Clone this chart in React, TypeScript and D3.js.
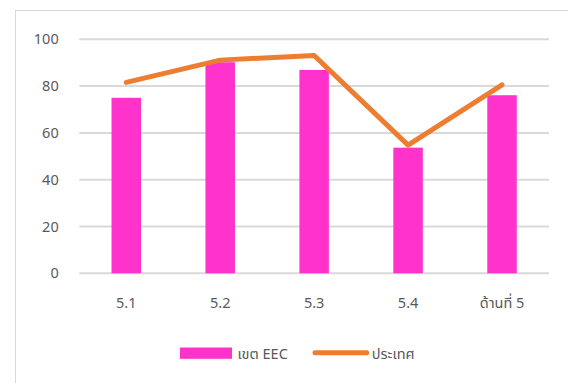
import React from "react";
import * as d3 from "d3";

const categories = ["5.1", "5.2", "5.3", "5.4", "ด้านที่ 5"];
const eecValues = [75.0, 90.2, 86.9, 53.7, 76.1];
const countryValues = [81.6, 91.1, 93.1, 54.8, 80.5];
const yTicks = [0, 20, 40, 60, 80, 100];
const seriesNames = ["เขต EEC", "ประเทศ"];

const W = 568;
const H = 383;
const left = 79.3;
const right = 549;
const top = 39.3;
const bottom = 273.3;
const FONT = "'Noto Sans', 'Noto Sans Thai', 'Leelawadee UI', sans-serif";
const TXT = "#595959";
const FS = 14.5;

export default function App() {
  const x = d3.scaleBand<string>().domain(categories).range([left, right]).paddingInner(0).paddingOuter(0);
  const y = d3.scaleLinear().domain([0, 100]).range([bottom, top]);
  const barW = 29.5;
  const cx = (c: string) => (x(c) as number) + x.bandwidth() / 2;
  const line = d3
    .line<number>()
    .x((_, i) => cx(categories[i]))
    .y((d) => y(d));

  return (
    <svg
      width={W}
      height={H}
      style={{ position: "absolute", left: 0, top: 0, background: "#fff" }}
      fontFamily={FONT}
    >
      <rect x={15.5} y={10.5} width={W} height={H} fill="#fff" stroke="#d9d9d9" strokeWidth={1} />
      {yTicks.map((t) => (
        <g key={t}>
          <line x1={left} x2={right} y1={y(t)} y2={y(t)} stroke="#d9d9d9" strokeWidth={2} />
          <text x={58.7} y={y(t)} dy="0.35em" textAnchor="end" fontSize={FS} fill={TXT}>
            {t}
          </text>
        </g>
      ))}
      {categories.map((c, i) => (
        <rect
          key={c}
          x={cx(c) - barW / 2}
          y={y(eecValues[i])}
          width={barW}
          height={y(0) - y(eecValues[i])}
          fill="#FF33CC"
        />
      ))}
      <path
        d={line(countryValues) as string}
        fill="none"
        stroke="#ED7D31"
        strokeWidth={5}
        strokeLinecap="round"
        strokeLinejoin="round"
      />
      {categories.map((c) => (
        <text key={c} x={cx(c)} y={302.7} dy="0.35em" textAnchor="middle" fontSize={FS} fill={TXT}>
          {c}
        </text>
      ))}
      <rect x={180} y={347.5} width={52} height={11.3} fill="#FF33CC" />
      <text x={237.5} y={353.5} dy="0.35em" fontSize={FS} fill={TXT}>
        {seriesNames[0]}
      </text>
      <line x1={315} x2={366.7} y1={352.7} y2={352.7} stroke="#ED7D31" strokeWidth={5} strokeLinecap="round" />
      <text x={371.7} y={353.5} dy="0.35em" fontSize={FS} fill={TXT}>
        {seriesNames[1]}
      </text>
    </svg>
  );
}
